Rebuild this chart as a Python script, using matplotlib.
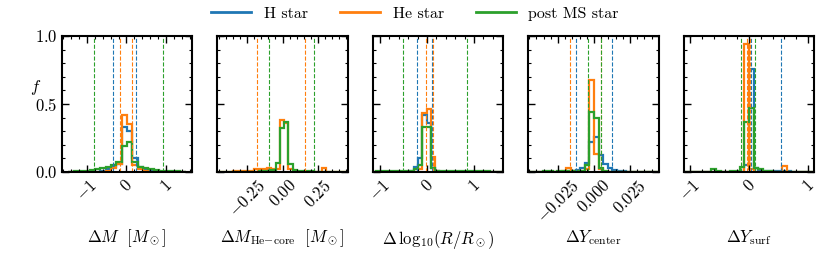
import numpy as np
import matplotlib
matplotlib.use("Agg")
import matplotlib.pyplot as plt
from matplotlib.lines import Line2D
from matplotlib.ticker import AutoMinorLocator, MultipleLocator

plt.rcParams["font.family"] = ["cmr10", "DejaVu Serif"]
plt.rcParams["mathtext.fontset"] = "cm"
plt.rcParams["axes.formatter.use_mathtext"] = True
plt.rcParams["axes.linewidth"] = 1.5

series_names = ["H star", "He star", "post MS star"]
series_colors = ["tab:blue", "tab:orange", "tab:green"]

xlabels = [r"$\Delta M\ \ [M_\odot]$",
           r"$\Delta M_\mathrm{He{-}core}\ \ [M_\odot]$",
           r"$\Delta\,\mathrm{log}_{10}(R/R_\odot)$",
           r"$\Delta Y_\mathrm{center}$",
           r"$\Delta Y_\mathrm{surf}$"]

# panel 1: Delta M
m_start, m_width = -1.47, 0.135
m_h = [0, 0, 0, 0, 0, 0, 0.005, 0.02, 0.04, 0.06, 0.33, 0.30, 0.10, 0.04, 0.02, 0.01, 0.005, 0, 0, 0, 0, 0]
m_he = [0, 0, 0, 0, 0, 0, 0, 0.01, 0.03, 0.06, 0.42, 0.35, 0.05, 0.02, 0.005, 0, 0, 0, 0, 0, 0, 0]
m_pms = [0, 0.005, 0.005, 0.01, 0.015, 0.02, 0.03, 0.04, 0.05, 0.07, 0.19, 0.22, 0.07, 0.04, 0.03, 0.02, 0.015, 0.01, 0.01, 0.005, 0.005, 0]
m_lines = [[-0.33, 0.25], [-0.17, 0.15], [-0.82, 0.92]]

# panel 2: Delta M He core (no H stars)
c_start, c_width = -0.469, 0.03
c_h = None
c_he = [0, 0, 0, 0, 0.005, 0.005, 0.005, 0.005, 0.01, 0.02, 0.02, 0.025, 0.03, 0.02, 0.02, 0.385, 0.36, 0.02, 0.005,
        0, 0, 0, 0, 0, 0, 0.03, 0, 0, 0, 0, 0]
c_pms = [0, 0, 0, 0, 0, 0, 0, 0, 0, 0, 0.005, 0.01, 0.01, 0.015, 0.065, 0.32, 0.365, 0.06, 0.015, 0.01, 0.01, 0.005,
         0.005, 0, 0, 0, 0, 0, 0, 0, 0]
c_lines = [None, [-0.178, 0.16], [-0.094, 0.223]]

# panel 3: Delta log R
r_start, r_width = -1.176, 0.09
r_h = [0, 0, 0, 0, 0, 0, 0, 0, 0, 0.01, 0.04, 0.10, 0.42, 0.36, 0.03, 0.01, 0, 0, 0, 0, 0, 0, 0, 0, 0, 0, 0, 0, 0, 0, 0]
r_he = [0, 0, 0, 0, 0, 0, 0, 0, 0, 0, 0, 0.02, 0.435, 0.46, 0.11, 0.01, 0, 0, 0, 0, 0, 0, 0, 0, 0, 0, 0, 0, 0, 0, 0]
r_pms = [0, 0.01, 0.01, 0.005, 0.01, 0.01, 0.005, 0.01, 0.01, 0.01, 0.02, 0.05, 0.33, 0.33, 0.03, 0.01, 0.01, 0.01,
         0.005, 0.01, 0.01, 0.005, 0.005, 0.01, 0.005, 0.005, 0.01, 0.005, 0, 0, 0]
r_lines = [[-0.22, 0.10], [-0.02, 0.134], [-0.52, 0.85]]

# panel 4: Delta Y center
yc_start, yc_width = -0.0448, 0.0032
yc_h = [0, 0, 0, 0, 0, 0, 0, 0, 0.005, 0.01, 0.015, 0.03, 0.065, 0.22, 0.26, 0.125, 0.06, 0.03, 0.015, 0.01, 0.005,
        0, 0, 0, 0, 0, 0, 0]
yc_he = [0, 0, 0, 0, 0, 0, 0, 0.01, 0.03, 0.01, 0.005, 0.01, 0.02, 0.68, 0.13, 0.02, 0, 0, 0, 0, 0, 0, 0, 0, 0, 0, 0, 0]
yc_pms = [0, 0, 0, 0.005, 0.005, 0, 0.005, 0.005, 0.005, 0.005, 0.005, 0.01, 0.05, 0.44, 0.40, 0.03, 0.01, 0, 0, 0,
          0, 0, 0, 0, 0, 0, 0, 0]
yc_lines = [[-0.0124, 0.0126], [-0.0166, 0.0049], [-0.0044, 0.0047]]

# panel 5: Delta Y surf
ys_start, ys_width = -1.12, 0.08
ys_h = [0, 0, 0, 0, 0, 0, 0, 0, 0, 0, 0, 0, 0, 0.05, 0.76, 0.03, 0.01, 0.01, 0.01, 0.01, 0.01, 0.01, 0.01, 0, 0, 0, 0, 0]
ys_he = [0, 0, 0, 0, 0, 0, 0, 0, 0, 0, 0, 0, 0, 0.94, 0.02, 0, 0, 0, 0, 0, 0, 0.045, 0, 0, 0, 0, 0, 0]
ys_pms = [0, 0, 0, 0, 0, 0, 0.025, 0.005, 0, 0, 0.005, 0.01, 0.04, 0.365, 0.47, 0.03, 0.02, 0.01, 0.005, 0, 0, 0, 0,
          0, 0, 0, 0, 0]
ys_lines = [[0.03, 0.54], [-0.03, 0.01], [-0.13, 0.097]]

panels = [
    (m_start, m_width, [m_h, m_he, m_pms], m_lines, (-1.63, 1.66), 1.0),
    (c_start, c_width, [c_h, c_he, c_pms], c_lines, (-0.46, 0.46), 0.25),
    (r_start, r_width, [r_h, r_he, r_pms], r_lines, (-1.15, 1.62), 1.0),
    (yc_start, yc_width, [yc_h, yc_he, yc_pms], yc_lines, (-0.0455, 0.0448), 0.025),
    (ys_start, ys_width, [ys_h, ys_he, ys_pms], ys_lines, (-1.106, 1.106), 1.0),
]

fig, axes = plt.subplots(1, 5, figsize=(8.3, 2.56), dpi=100)
fig.subplots_adjust(left=62 / 830, right=814 / 830, top=1 - 36 / 256, bottom=1 - 172 / 256, wspace=0.196)

for i, (ax, (start, width, hists, lines, xlim, major)) in enumerate(zip(axes, panels)):
    for vals, col in zip(hists, series_colors):
        if vals is None:
            continue
        edges = start + width * np.arange(len(vals) + 1)
        ax.stairs(vals, edges, color=col, lw=1.6)
    for pair, col in zip(lines, series_colors):
        if pair is None:
            continue
        for v in pair:
            ax.axvline(v, color=col, ls="--", lw=0.8)
    ax.set_xlim(*xlim)
    ax.set_ylim(0, 1)
    ax.xaxis.set_major_locator(MultipleLocator(major))
    ax.xaxis.set_minor_locator(AutoMinorLocator(5))
    ax.yaxis.set_major_locator(MultipleLocator(0.5))
    ax.yaxis.set_minor_locator(AutoMinorLocator(5))
    ax.tick_params(which="both", direction="in", top=True, right=True, labelsize=12)
    ax.tick_params(which="major", length=5, width=1.0)
    ax.tick_params(which="minor", length=2.5, width=0.8)
    ax.tick_params(axis="x", labelrotation=45)
    ax.set_xlabel(xlabels[i], fontsize=12)
    ax.xaxis.set_label_coords(0.5, -0.41)
    if i == 0:
        ax.set_ylabel(r"$f$", fontsize=12, rotation=0, va="center", ha="center")
        ax.yaxis.set_label_coords(-0.2, 0.62)
    else:
        ax.set_yticklabels([])

handles = [Line2D([], [], color=c, lw=2) for c in series_colors]
fig.legend(handles, series_names, loc="upper center", bbox_to_anchor=(0.5, 1.03), ncol=3, frameon=False,
           fontsize=11.5, handlelength=2.5, columnspacing=2.0)

fig.savefig("out.png", dpi=100)
